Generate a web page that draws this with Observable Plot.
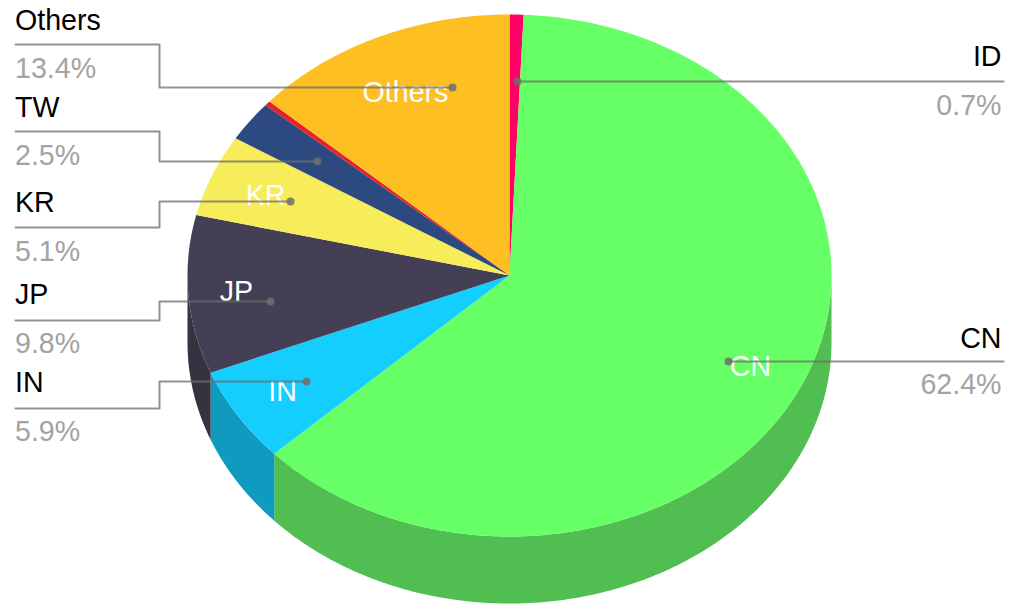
<!DOCTYPE html>
<html>
<head>
<meta charset="utf-8">
<style>html,body{margin:0;padding:0;background:#fff}svg{display:block}</style>
<script src="https://cdn.jsdelivr.net/npm/d3@7"></script>
<script src="https://cdn.jsdelivr.net/npm/@observablehq/plot@0.6"></script>
</head>
<body>
<div id="chart"></div>
<script>
// Data: clockwise from 12 o'clock
const categories = ["ID", "CN", "IN", "JP", "KR", "TW", "Other2", "Others"];
const shares     = [0.7, 62.4, 5.9, 9.8, 5.1, 2.5, 0.3, 13.4];
const topColors  = ["#ff0066", "#66ff66", "#14ceff", "#443f54", "#f7ec5a", "#2c4a80", "#e5222a", "#fdbf22"];
const sideColors = ["#bf004c", "#50be50", "#0f9bbf", "#36323f", "#b9b144", "#213860", "#ac1a20", "#be8f1a"];

// Outer callouts
const calloutNames  = ["Others", "TW", "KR", "JP", "IN", "ID", "CN"];
const calloutValues = ["13.4%", "2.5%", "5.1%", "9.8%", "5.9%", "0.7%", "62.4%"];

// Layout (pixels, separate from the data)
const W = 1009, H = 606;
const cx = 509, cy = 275, rx = 322, ry = 261, depth = 67;
const nameBase  = [29, 116, 211, 303, 391, 65, 347];
const valueBase = [77, 164, 260, 352, 440, 114, 393];
const anchorSide = ["start", "start", "start", "start", "start", "end", "end"];
const leaders = [
  [[15, 44], [159, 44], [159, 87], [452, 87]],
  [[15, 131], [159, 131], [159, 161], [317, 161]],
  [[15, 227], [159, 227], [159, 201], [290, 201]],
  [[15, 320], [159, 320], [159, 301], [270, 301]],
  [[15, 408], [159, 408], [159, 381], [306, 381]],
  [[1003, 81], [517, 81]],
  [[1003, 361], [728, 361]]
];
const innerNames = ["Others", "KR", "JP", "IN", "CN"];
const innerX = [405, 265, 236, 282, 750];
const innerY = [101, 204, 300, 400, 375];

// Geometry derived from the shares
const total = d3.sum(shares);
const TAU = 2 * Math.PI;
const pt = (a, dy = 0) => ({x: cx + rx * Math.sin(a), y: cy - ry * Math.cos(a) + dy});
let acc = 0;
const slices = categories.map((name, i) => {
  const a0 = acc / total * TAU;
  acc += shares[i];
  return {name, a0, a1: acc / total * TAU, top: topColors[i], side: sideColors[i]};
});
const arc = (a0, a1, dy) => {
  const n = Math.max(2, Math.ceil((a1 - a0) / 0.01));
  return d3.range(n + 1).map(k => pt(a0 + (a1 - a0) * k / n, dy));
};
const topPts = slices.flatMap(s =>
  [{x: cx, y: cy}, ...arc(s.a0, s.a1, 0)].map(p => ({...p, id: s.name, fill: s.top})));
const sidePts = slices.flatMap(s => {
  const a0 = Math.max(s.a0, Math.PI / 2), a1 = Math.min(s.a1, 1.5 * Math.PI);
  if (a1 <= a0) return [];
  return [...arc(a0, a1, 0), ...arc(a0, a1, depth).reverse()].map(p => ({...p, id: s.name, fill: s.side}));
});
const leaderPts = leaders.flatMap((l, i) => l.map(([x, y]) => ({x, y, id: calloutNames[i]})));
const leaderEnds = leaders.map(l => ({x: l[l.length - 1][0], y: l[l.length - 1][1]}));
const callouts = calloutNames.map((name, i) => ({
  name, value: calloutValues[i], nb: nameBase[i], vb: valueBase[i], side: anchorSide[i],
  x: anchorSide[i] === "start" ? 14.5 : 1001
}));
const inner = innerNames.map((name, i) => ({name, x: innerX[i], y: innerY[i]}));

const textOpts = {fontSize: 28.6, lineAnchor: "bottom"};
const plot = Plot.plot({
  width: W, height: H, margin: 0,
  style: {fontFamily: "'Liberation Sans', Arial, sans-serif", background: "#fff"},
  x: {axis: null, domain: [0, W], range: [0, W]},
  y: {axis: null, domain: [0, H], range: [0, H]},
  marks: [
    Plot.line(sidePts, {x: "x", y: "y", z: "id", fill: "fill", stroke: "none", curve: "linear"}),
    Plot.line(topPts, {x: "x", y: "y", z: "id", fill: "fill", stroke: "none", curve: "linear"}),
    Plot.text(inner, {x: "x", y: "y", text: "name", fill: "#fff", textAnchor: "middle", ...textOpts}),
    Plot.line(leaderPts, {x: "x", y: "y", z: "id", stroke: "#6e6e6e", strokeOpacity: 0.75, strokeWidth: 2, curve: "linear"}),
    Plot.dot(leaderEnds, {x: "x", y: "y", r: 4, fill: "#6e6e6e", fillOpacity: 0.85, stroke: "none"}),
    Plot.text(callouts.filter(d => d.side === "start"), {x: "x", y: "nb", text: "name", fill: "#000", textAnchor: "start", ...textOpts}),
    Plot.text(callouts.filter(d => d.side === "end"), {x: "x", y: "nb", text: "name", fill: "#000", textAnchor: "end", ...textOpts}),
    Plot.text(callouts.filter(d => d.side === "start"), {x: "x", y: "vb", text: "value", fill: "#a3a3a3", textAnchor: "start", ...textOpts}),
    Plot.text(callouts.filter(d => d.side === "end"), {x: "x", y: "vb", text: "value", fill: "#a3a3a3", textAnchor: "end", ...textOpts})
  ]
});
document.getElementById("chart").append(plot);
</script>
</body>
</html>
